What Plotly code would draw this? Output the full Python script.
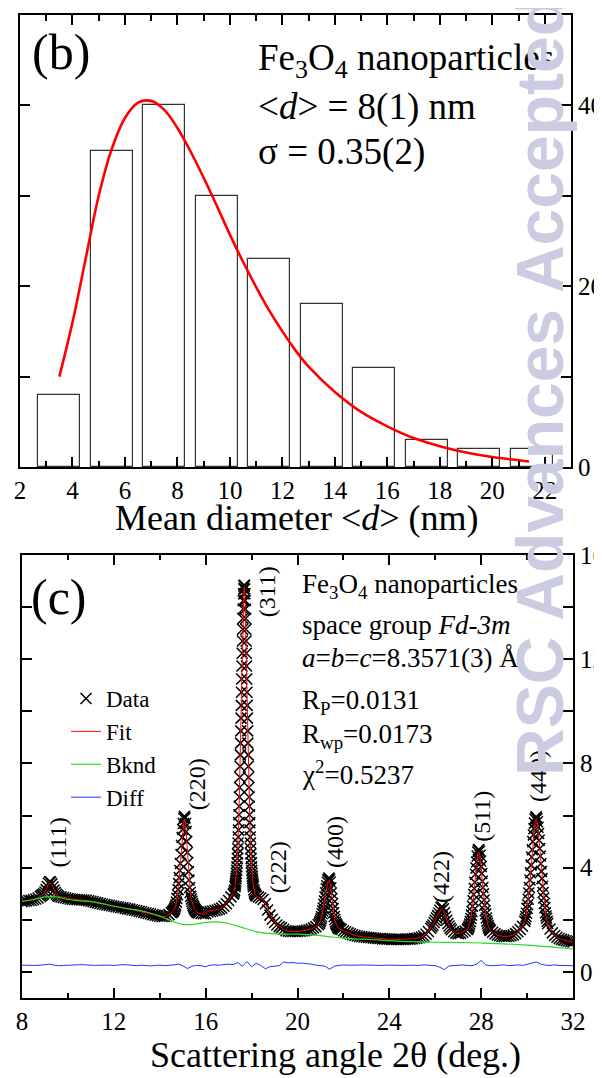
import numpy as np
import plotly.graph_objects as go

# page is 602x1078; the browser body adds an 8px margin, so the figure is 594x1070
OFF = 8
W, H = 602 - OFF, 1078 - OFF

# ---------------- Panel (b): size histogram ----------------
bin_centers = [3.5, 5.5, 7.5, 9.5, 11.5, 13.5, 15.5, 17.5, 19.5, 21.5]
counts = [8, 35, 40, 30, 23, 18, 11, 3, 2, 2]
bar_width = 1.6

fit_d = [3.5, 4.0, 4.5, 5.0, 5.5, 6.0, 6.5, 7.0, 7.5, 8.0, 8.5, 9.0, 9.5, 10.0,
         10.5, 11.0, 11.5, 12.0, 12.5, 13.0, 14.0, 15.0, 16.0, 17.0, 18.0, 19.0,
         20.0, 21.0, 21.4]
fit_n = [10.0, 16.0, 23.0, 30.0, 35.2, 38.6, 40.3, 40.5, 39.5, 37.5, 34.9, 32.0,
         28.9, 25.7, 22.7, 19.9, 17.3, 15.0, 12.9, 11.1, 8.3, 6.1, 4.5, 3.2, 2.3,
         1.6, 1.1, 0.75, 0.6]

# ---------------- Panel (c): diffraction pattern ----------------
def scan(a, b, step):
    return [float(v) for v in np.round(np.arange(a, b + step / 2, step), 3)]

# (311) flank, read from 0.40 deg below the maximum up to 0.01 deg below it
p311_flank_obs = [3.27, 3.34, 3.41, 3.49, 3.58, 3.67, 3.78, 3.90, 4.04, 4.19,
                  4.35, 4.53, 4.73, 4.95, 5.18, 5.45, 5.73, 6.03, 6.36, 6.71,
                  7.08, 7.47, 7.89, 8.33, 8.78, 9.25, 9.74, 10.23, 10.73, 11.24,
                  11.74, 12.23, 12.70, 13.15, 13.56, 13.93, 14.25, 14.51, 14.70, 14.81]
p311_top_obs = 14.85
p311_flank_fit = [3.27, 3.34, 3.41, 3.49, 3.58, 3.67, 3.78, 3.90, 4.04, 4.19,
                  4.35, 4.53, 4.73, 4.95, 5.18, 5.45, 5.73, 6.03, 6.36, 6.71,
                  7.08, 7.47, 7.89, 8.33, 8.78, 9.25, 9.74, 10.23, 10.73, 11.24,
                  11.74, 12.23, 12.70, 13.15, 13.56, 13.88, 14.18, 14.42, 14.60, 14.72]
p311_top_fit = 14.78

seg_ranges = [
    (8.0, 8.8, 0.1), (8.85, 9.6, 0.05), (9.7, 14.5, 0.1), (14.55, 15.65, 0.025),
    (15.7, 17.2, 0.1), (17.22, 17.26, 0.02), (17.28, 18.08, 0.01), (18.10, 18.20, 0.02),
    (18.3, 20.9, 0.1), (20.95, 21.85, 0.025),
    (21.9, 25.8, 0.1), (25.85, 26.7, 0.05), (26.8, 27.4, 0.1), (27.425, 28.375, 0.025),
    (28.4, 29.9, 0.1), (29.925, 30.9, 0.025), (31.0, 32.0, 0.1),
]

obs_segments = [
    [2.70, 2.71, 2.72, 2.74, 2.75, 2.77, 2.80, 2.84, 2.90],
    [2.93, 2.96, 3.00, 3.07, 3.16, 3.28, 3.40, 3.46, 3.45, 3.38, 3.26, 3.14, 3.05, 2.98, 2.93, 2.90],
    [2.88, 2.86, 2.84, 2.82, 2.80, 2.79, 2.78, 2.77, 2.77, 2.76,
     2.76, 2.75, 2.73, 2.71, 2.69, 2.67, 2.65, 2.63, 2.61, 2.59,
     2.57, 2.56, 2.54, 2.52, 2.50, 2.49, 2.47, 2.46, 2.44, 2.42,
     2.41, 2.39, 2.37, 2.35, 2.33, 2.31, 2.28, 2.26, 2.24, 2.22,
     2.20, 2.18, 2.16, 2.14, 2.13, 2.13, 2.15, 2.20, 2.27],
    [2.30, 2.32, 2.35, 2.39, 2.44, 2.50, 2.57, 2.68, 2.82, 2.96,
     3.16, 3.39, 3.62, 3.89, 4.16, 4.51, 4.85, 5.16, 5.47, 5.70,
     5.89, 5.97, 5.91, 5.70, 5.39, 5.01, 4.58, 4.20, 3.85, 3.53,
     3.24, 3.05, 2.90, 2.80, 2.71, 2.63, 2.56, 2.50, 2.45, 2.41,
     2.38, 2.35, 2.32, 2.30, 2.28],
    [2.26, 2.24, 2.23, 2.23, 2.30, 2.32, 2.34, 2.36, 2.38, 2.41, 2.45, 2.52, 2.62, 2.74, 2.88, 2.98],
    [3.01, 3.07, 3.13],
    p311_flank_obs + [p311_top_obs] + p311_flank_obs[::-1],
    [3.15, 3.07, 3.01, 2.97, 2.94, 2.92],
    [2.88, 2.84, 2.78, 2.62, 2.38, 2.18, 2.02, 1.90, 1.80, 1.74,
     1.70, 1.64, 1.58, 1.56, 1.55, 1.55, 1.55, 1.55, 1.56, 1.57,
     1.58, 1.60, 1.62, 1.65, 1.69, 1.74, 1.81],
    [1.86, 1.92, 1.97, 2.04, 2.12, 2.23, 2.34, 2.45, 2.60, 2.72,
     2.88, 3.04, 3.19, 3.31, 3.44, 3.53, 3.58, 3.60, 3.54, 3.45,
     3.23, 3.03, 2.82, 2.62, 2.43, 2.27, 2.13, 2.01, 1.92, 1.85,
     1.81, 1.77, 1.72, 1.70, 1.68, 1.67, 1.66],
    [1.63, 1.58, 1.54, 1.50, 1.46, 1.43, 1.40, 1.38, 1.36, 1.35,
     1.34, 1.33, 1.32, 1.31, 1.30, 1.29, 1.28, 1.28, 1.27, 1.27,
     1.26, 1.26, 1.25, 1.25, 1.25, 1.25, 1.25, 1.25, 1.25, 1.26,
     1.26, 1.27, 1.28, 1.29, 1.31, 1.34, 1.38, 1.45, 1.55, 1.68],
    [1.74, 1.80, 1.90, 1.98, 2.07, 2.16, 2.26, 2.37, 2.47, 2.50,
     2.42, 2.27, 2.12, 1.98, 1.86, 1.76, 1.68, 1.62],
    [1.54, 1.49, 1.47, 1.48, 1.52, 1.57, 1.63],
    [1.66, 1.71, 1.76, 1.84, 1.93, 2.05, 2.18, 2.32, 2.52, 2.73,
     2.97, 3.20, 3.44, 3.75, 3.99, 4.22, 4.45, 4.60, 4.68, 4.70,
     4.63, 4.48, 4.26, 4.05, 3.78, 3.48, 3.24, 3.00, 2.76, 2.56,
     2.35, 2.22, 2.07, 1.95, 1.86, 1.78, 1.71, 1.66, 1.62],
    [1.59, 1.52, 1.46, 1.42, 1.39, 1.37, 1.36, 1.36, 1.37, 1.39, 1.42, 1.47, 1.54, 1.63, 1.75, 1.94],
    [2.03, 2.13, 2.25, 2.44, 2.58, 2.79, 3.03, 3.24, 3.53, 3.81,
     4.10, 4.41, 4.69, 5.00, 5.26, 5.50, 5.71, 5.86, 5.93, 5.95,
     5.88, 5.76, 5.55, 5.31, 5.05, 4.74, 4.45, 4.15, 3.86, 3.58,
     3.29, 3.05, 2.84, 2.63, 2.46, 2.27, 2.15, 2.06, 1.94, 1.86],
    [1.65, 1.50, 1.40, 1.33, 1.28, 1.25, 1.22, 1.20, 1.18, 1.16, 1.15],
]

fit_segments = [
    [2.70, 2.71, 2.72, 2.74, 2.75, 2.77, 2.80, 2.84, 2.90],
    [2.93, 2.96, 3.00, 3.07, 3.16, 3.27, 3.36, 3.41, 3.40, 3.35, 3.25, 3.14, 3.05, 2.98, 2.93, 2.90],
    [2.88, 2.86, 2.84, 2.82, 2.80, 2.79, 2.78, 2.77, 2.77, 2.76,
     2.76, 2.75, 2.73, 2.71, 2.69, 2.67, 2.65, 2.63, 2.61, 2.59,
     2.57, 2.56, 2.54, 2.52, 2.50, 2.49, 2.47, 2.46, 2.44, 2.42,
     2.41, 2.39, 2.37, 2.35, 2.33, 2.30, 2.27, 2.25, 2.23, 2.21,
     2.19, 2.17, 2.15, 2.13, 2.12, 2.12, 2.14, 2.19, 2.26],
    [2.29, 2.31, 2.34, 2.38, 2.43, 2.49, 2.56, 2.67, 2.81, 2.95,
     3.15, 3.38, 3.61, 3.88, 4.15, 4.50, 4.83, 5.13, 5.42, 5.64,
     5.80, 5.86, 5.82, 5.64, 5.35, 4.99, 4.57, 4.19, 3.84, 3.52,
     3.23, 3.04, 2.89, 2.79, 2.70, 2.62, 2.55, 2.49, 2.44, 2.40,
     2.37, 2.34, 2.31, 2.29, 2.27],
    [2.25, 2.23, 2.22, 2.21, 2.33, 2.34, 2.35, 2.37, 2.39, 2.42, 2.46, 2.53, 2.63, 2.75, 2.89, 2.99],
    [3.02, 3.08, 3.14],
    p311_flank_fit + [p311_top_fit] + p311_flank_fit[::-1],
    [3.15, 3.08, 3.02, 2.97, 2.94, 2.92],
    [2.88, 2.84, 2.78, 2.63, 2.39, 2.19, 2.03, 1.91, 1.81, 1.75,
     1.71, 1.62, 1.57, 1.56, 1.55, 1.55, 1.55, 1.55, 1.56, 1.57,
     1.58, 1.60, 1.62, 1.65, 1.69, 1.74, 1.81],
    [1.86, 1.92, 1.97, 2.04, 2.12, 2.23, 2.34, 2.45, 2.60, 2.72,
     2.88, 3.03, 3.17, 3.28, 3.39, 3.46, 3.50, 3.53, 3.48, 3.40,
     3.20, 3.01, 2.81, 2.61, 2.43, 2.27, 2.13, 2.01, 1.92, 1.85,
     1.81, 1.77, 1.72, 1.70, 1.68, 1.67, 1.66],
    [1.63, 1.58, 1.54, 1.50, 1.46, 1.43, 1.40, 1.38, 1.36, 1.35,
     1.34, 1.33, 1.32, 1.31, 1.30, 1.29, 1.28, 1.28, 1.27, 1.27,
     1.26, 1.26, 1.25, 1.25, 1.25, 1.25, 1.25, 1.25, 1.25, 1.26,
     1.26, 1.27, 1.28, 1.29, 1.31, 1.34, 1.38, 1.45, 1.55, 1.68],
    [1.74, 1.80, 1.90, 1.98, 2.07, 2.16, 2.25, 2.34, 2.40, 2.43,
     2.37, 2.25, 2.11, 1.98, 1.86, 1.76, 1.68, 1.62],
    [1.54, 1.49, 1.47, 1.48, 1.52, 1.57, 1.63],
    [1.66, 1.71, 1.76, 1.84, 1.93, 2.05, 2.18, 2.32, 2.52, 2.73,
     2.97, 3.20, 3.43, 3.73, 3.96, 4.18, 4.39, 4.52, 4.58, 4.60,
     4.55, 4.42, 4.22, 4.02, 3.76, 3.47, 3.23, 3.00, 2.76, 2.56,
     2.35, 2.22, 2.07, 1.95, 1.86, 1.78, 1.71, 1.66, 1.62],
    [1.59, 1.52, 1.46, 1.42, 1.39, 1.37, 1.36, 1.36, 1.37, 1.39, 1.42, 1.47, 1.54, 1.63, 1.75, 1.94],
    [2.03, 2.13, 2.25, 2.44, 2.58, 2.79, 3.03, 3.24, 3.53, 3.81,
     4.10, 4.40, 4.67, 4.97, 5.22, 5.45, 5.64, 5.78, 5.84, 5.88,
     5.82, 5.70, 5.51, 5.28, 5.03, 4.73, 4.44, 4.15, 3.86, 3.58,
     3.29, 3.05, 2.84, 2.63, 2.46, 2.27, 2.15, 2.06, 1.94, 1.86],
    [1.65, 1.50, 1.40, 1.33, 1.28, 1.25, 1.22, 1.20, 1.18, 1.16, 1.15],
]

two_theta, intensity_obs, intensity_fit = [], [], []
for (a, b, s), yo, yf in zip(seg_ranges, obs_segments, fit_segments):
    xs = scan(a, b, s)
    assert len(xs) == len(yo) == len(yf), (a, b, len(xs), len(yo), len(yf))
    two_theta += xs
    intensity_obs += yo
    intensity_fit += yf

bknd_x = [8.0, 8.5, 9.0, 9.5, 10.0, 10.5, 11.0, 11.5, 12.0, 12.5, 13.0, 13.5, 14.0,
          14.5, 15.0, 15.5, 16.0, 16.5, 17.0, 17.5, 18.0, 18.5, 19.0, 19.5, 20.0,
          20.5, 21.0, 21.5, 22.0, 22.5, 23.0, 23.5, 24.0, 24.5, 25.0, 26.0, 27.0,
          28.0, 29.0, 30.0, 31.0, 32.0]
bknd_y = [2.72, 2.78, 2.88, 2.88, 2.78, 2.73, 2.70, 2.62, 2.52, 2.44, 2.38, 2.28, 2.14,
          1.96, 1.82, 1.83, 1.90, 1.92, 1.86, 1.73, 1.59, 1.50, 1.46, 1.45, 1.45,
          1.43, 1.39, 1.34, 1.30, 1.27, 1.25, 1.23, 1.20, 1.17, 1.16, 1.14, 1.13,
          1.11, 1.08, 1.03, 0.96, 0.88]

diff_x = scan(8.0, 32.0, 0.2)
diff_y = [0.26, 0.25, 0.26, 0.25, 0.26, 0.27, 0.30, 0.26, 0.24, 0.25,
          0.26, 0.26, 0.27, 0.28, 0.27, 0.25, 0.25, 0.26, 0.27, 0.26,
          0.25, 0.27, 0.28, 0.27, 0.26, 0.24, 0.26, 0.25, 0.23, 0.25,
          0.26, 0.24, 0.25, 0.27, 0.30, 0.24, 0.13, 0.22, 0.25, 0.24,
          0.20, 0.26, 0.27, 0.26, 0.28, 0.30, 0.28, 0.36, 0.22, 0.40,
          0.20, 0.33, 0.25, 0.12, 0.20, 0.22, 0.24, 0.38, 0.35, 0.36,
          0.33, 0.34, 0.33, 0.30, 0.26, 0.25, 0.22, 0.10, 0.22, 0.25,
          0.27, 0.26, 0.25, 0.26, 0.27, 0.26, 0.25, 0.26, 0.25, 0.26,
          0.27, 0.26, 0.25, 0.26, 0.27, 0.26, 0.25, 0.26, 0.27, 0.25,
          0.24, 0.18, 0.09, 0.23, 0.25, 0.26, 0.27, 0.25, 0.24, 0.30,
          0.44, 0.27, 0.24, 0.25, 0.26, 0.27, 0.24, 0.26, 0.27, 0.25,
          0.30, 0.35, 0.38, 0.30, 0.26, 0.25, 0.27, 0.25, 0.24, 0.25,
          0.24]
assert len(diff_x) == len(diff_y)

peak_labels = ["(111)", "(220)", "(311)", "(222)", "(400)", "(422)", "(511)", "(440)"]
peak_label_x = [9.55, 15.62, 18.71, 19.15, 21.63, 26.28, 28.02, 30.47]
peak_label_y = [4.95, 7.2, 14.6, 4.02, 4.98, 3.63, 5.98, 7.51]

# ---------------- figure ----------------
SERIF = "Liberation Serif"

def px_x(p):
    """page pixel (from reference) -> paper fraction"""
    return (p - OFF) / W

def px_y(p):
    return 1 - (p - OFF) / H

fig = go.Figure()

fig.add_trace(go.Bar(x=bin_centers, y=counts, width=bar_width, xaxis="x", yaxis="y",
                     marker=dict(color="white", line=dict(color="#333333", width=1.2)),
                     showlegend=False))
fig.add_trace(go.Scatter(x=fit_d, y=fit_n, mode="lines", xaxis="x", yaxis="y",
                         line=dict(color="#ff0000", width=2.6, shape="spline"),
                         showlegend=False))

fig.add_trace(go.Scatter(x=two_theta, y=intensity_obs, mode="markers", name="Data",
                         xaxis="x2", yaxis="y2",
                         marker=dict(symbol="x-thin", size=11, color="black",
                                     line=dict(width=1.5, color="black"))))
fig.add_trace(go.Scatter(x=two_theta, y=intensity_fit, mode="lines", name="Fit",
                         xaxis="x2", yaxis="y2", line=dict(color="#ff0000", width=1)))
fig.add_trace(go.Scatter(x=bknd_x, y=bknd_y, mode="lines", name="Bknd",
                         xaxis="x2", yaxis="y2",
                         line=dict(color="#22dd22", width=1.2, shape="spline")))
fig.add_trace(go.Scatter(x=diff_x, y=diff_y, mode="lines", name="Diff",
                         xaxis="x2", yaxis="y2", line=dict(color="#2233ff", width=1)))

axis_common = dict(showline=True, linewidth=2, linecolor="black", mirror="ticks",
                   ticks="inside", tickwidth=1.5, tickcolor="black", ticklen=10,
                   showgrid=False, zeroline=False, automargin=False,
                   tickfont=dict(family=SERIF, size=25, color="black"))

fig.update_layout(
    width=W, height=H, margin=dict(l=0, r=0, t=0, b=0, pad=0, autoexpand=False),
    paper_bgcolor="white", plot_bgcolor="white",
    font=dict(family=SERIF, color="black"),
    bargap=0,
    xaxis=dict(domain=[px_x(20), px_x(571)], range=[2, 23], anchor="y",
               tickmode="linear", tick0=2, dtick=2,
               minor=dict(ticks="inside", ticklen=6, dtick=1, tickwidth=1.5,
                          tickcolor="black", showgrid=False),
               **axis_common),
    yaxis=dict(domain=[px_y(467), px_y(15)], range=[0, 50], anchor="x", side="right",
               tickvals=[0, 10, 20, 30, 40], ticktext=["0", "", "20", "", "40"],
               **axis_common),
    xaxis2=dict(domain=[px_x(22), px_x(573)], range=[8, 32], anchor="y2",
                tickmode="linear", tick0=8, dtick=4,
                minor=dict(ticks="inside", ticklen=5, dtick=2, tickwidth=1.5,
                           tickcolor="black", showgrid=False),
                **axis_common),
    yaxis2=dict(domain=[px_y(998), px_y(555)], range=[-1, 16], anchor="x2", side="right",
                tickvals=[0, 2, 4, 6, 8, 10, 12, 14, 16],
                ticktext=["0", "", "4", "", "8", "", "12", "", "16"],
                **axis_common),
    legend=dict(x=px_x(66), y=px_y(677), xanchor="left", yanchor="top",
                bgcolor="rgba(0,0,0,0)", font=dict(family=SERIF, size=23, color="black"),
                tracegroupgap=0, itemwidth=30),
)

ann = []
def text(x, y, s, size, xanchor="left", **kw):
    ann.append(dict(x=x, y=y, xref="paper", yref="paper", text=s, showarrow=False,
                    xanchor=xanchor, yanchor="middle",
                    font=dict(family=SERIF, size=size, color="black"), **kw))

text(px_x(61), px_y(52), "(b)", 50, xanchor="center")
text(px_x(256), px_y(60), "Fe<sub>3</sub>O<sub>4</sub> nanoparticles", 37)
text(px_x(256), px_y(107), "&lt;<i>d</i>&gt; = 8(1) nm", 37)
text(px_x(256), px_y(152), "σ = 0.35(2)", 37)
text(px_x(296), px_y(518), "Mean diameter &lt;<i>d</i>&gt; (nm)", 36, xanchor="center")

text(px_x(59), px_y(597), "(c)", 50, xanchor="center")
text(px_x(300), px_y(586), "Fe<sub>3</sub>O<sub>4</sub> nanoparticles", 27)
text(px_x(300), px_y(625), "space group <i>Fd-3m</i>", 27)
text(px_x(300), px_y(658), "<i>a</i>=<i>b</i>=<i>c</i>=8.3571(3) Å", 27)
text(px_x(300), px_y(702), "R<sub>P</sub>=0.0131", 27)
text(px_x(300), px_y(736), "R<sub>wp</sub>=0.0173", 27)
text(px_x(300), px_y(773), "χ<sup>2</sup>=0.5237", 27)
text(px_x(335), px_y(1055), "Scattering angle 2θ (deg.)", 36, xanchor="center")

for lab, lx, ly in zip(peak_labels, peak_label_x, peak_label_y):
    ann.append(dict(x=lx, y=ly, xref="x2", yref="y2", text=lab, showarrow=False,
                    textangle=-90, xanchor="center", yanchor="middle",
                    font=dict(family=SERIF, size=24, color="black")))

ann.append(dict(x=px_x(540), y=px_y(386), xref="paper", yref="paper",
                text="<b>RSC Advances Accepted</b>", showarrow=False, textangle=-90,
                xanchor="center", yanchor="middle",
                font=dict(family="Liberation Sans", size=66, color="#cbcbe1")))

fig.update_layout(annotations=ann)
fig.write_html("out.html")
